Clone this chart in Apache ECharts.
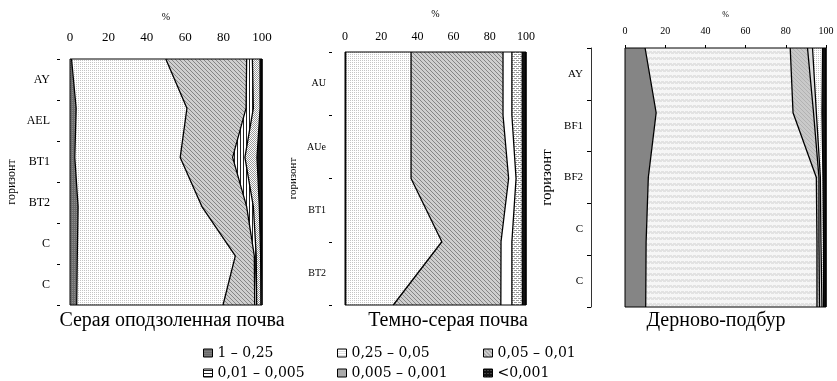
<!DOCTYPE html>
<html>
<head>
<meta charset="utf-8">
<script src="https://cdn.jsdelivr.net/npm/echarts@6/dist/echarts.min.js"></script>
<style>
  html, body { margin: 0; padding: 0; background: #fff; }
  #chart { width: 837px; height: 381px; }
</style>
</head>
<body>
<div id="chart"></div>
<script>
// гранулометрический состав по горизонтам, %
var fractions = ['1 – 0,25', '0,25 – 0,05', '0,05 – 0,01', '0,01 – 0,005', '0,005 – 0,001', '<0,001'];
var xTicks = [0, 20, 40, 60, 80, 100];

// Серая оподзоленная почва
var horizons1 = ['AY', 'AEL', 'BT1', 'BT2', 'C', 'C'];
var points1 = ['1', '2', '3', '4', '5', '6'];
var grey_f1 = [0.8, 3.2, 2.5, 4.2, 3.8, 3.5];
var grey_f2 = [49.1, 57.7, 54.9, 64.5, 82.3, 76.2];
var grey_f3 = [42.1, 30.8, 27.3, 23.3, 9.9, 16.5];
var grey_f4 = [3.0, 3.8, 6.4, 3.5, 1.0, 1.0];
var grey_f5 = [4.0, 3.5, 6.3, 3.1, 2.3, 2.2];
var grey_f6 = [1.0, 1.0, 2.6, 1.4, 0.7, 0.6];

// Темно-серая почва
var horizons2 = ['AU', 'AUe', 'BT1', 'BT2'];
var points2 = ['1', '2', '3', '4', '5'];
var dark_f1 = [0.4, 0.4, 0.4, 0.4, 0.4];
var dark_f2 = [36.1, 36.1, 36.1, 53.1, 26.3];
var dark_f3 = [50.8, 50.8, 53.9, 32.7, 59.4];
var dark_f4 = [4.9, 4.9, 4.1, 6.0, 6.1];
var dark_f5 = [5.7, 5.7, 3.5, 5.7, 5.8];
var dark_f6 = [2.1, 2.1, 2.0, 2.1, 2.0];

// Дерново-подбур
var horizons3 = ['AY', 'BF1', 'BF2', 'C', 'C'];
var points3 = ['1', '2', '3', '4', '5'];
var podbur_f1 = [10.0, 15.5, 11.6, 10.5, 10.3];
var podbur_f2 = [72.2, 68.1, 83.6, 85.0, 85.2];
var podbur_f3 = [8.6, 10.2, 1.3, 1.0, 1.3];
var podbur_f4 = [2.5, 1.4, 0.7, 1.0, 1.2];
var podbur_f5 = [5.0, 2.8, 1.3, 1.3, 0.8];
var podbur_f6 = [1.7, 2.0, 1.5, 1.2, 1.2];

(function() {
  var serif = 'Liberation Serif';

  // штриховки
  function pattern(w, h, bg, draw) {
    var c = document.createElement('canvas');
    c.width = w; c.height = h;
    var ctx = c.getContext('2d');
    ctx.fillStyle = bg;
    ctx.fillRect(0, 0, w, h);
    if (draw) draw(ctx);
    return { image: c, repeat: 'repeat' };
  }
  var darkDots = pattern(2, 2, '#6b6b6b', function(ctx) { ctx.fillStyle = '#8f8f8f'; ctx.fillRect(0, 0, 1, 1); });
  var lightDots = pattern(2, 2, '#ffffff', function(ctx) { ctx.fillStyle = '#c4c4c4'; ctx.fillRect(0, 0, 1, 1); });
  var hatch = pattern(4, 4, '#cfcfcf', function(ctx) {
    ctx.fillStyle = '#858585';
    for (var i = 0; i < 4; i++) ctx.fillRect(i, i, 1, 1);
  });
  var vLines = pattern(3, 1, '#fff', function(ctx) { ctx.fillStyle = '#222'; ctx.fillRect(0, 0, 1, 1); });
  var checker = pattern(2, 2, '#fff', function(ctx) { ctx.fillStyle = '#999'; ctx.fillRect(0, 0, 1, 1); ctx.fillRect(1, 1, 1, 1); });
  var dashes = pattern(4, 4, '#fff', function(ctx) {
    ctx.fillStyle = '#999';
    ctx.fillRect(0, 0, 3, 1); ctx.fillRect(2, 2, 2, 1); ctx.fillRect(0, 2, 1, 1);
  });
  var bands = pattern(4, 6, '#f6f6f6', function(ctx) {
    ctx.fillStyle = '#e2e2e2'; ctx.fillRect(0, 3, 4, 3);
    ctx.fillStyle = '#f6f6f6'; ctx.fillRect(0, 3, 1, 1); ctx.fillRect(2, 5, 1, 1);
  });
  var lightHatch = pattern(4, 4, '#c9c9c9', function(ctx) {
    ctx.fillStyle = '#b2b2b2';
    for (var i = 0; i < 4; i++) ctx.fillRect(i, i, 1, 1);
  });
  var hLines = pattern(1, 3, '#fff', function(ctx) { ctx.fillStyle = '#222'; ctx.fillRect(0, 1, 1, 1); });
  var vLines2 = pattern(2, 1, '#fff', function(ctx) { ctx.fillStyle = '#555'; ctx.fillRect(0, 0, 1, 1); });
  var blackDots = pattern(3, 3, '#111', function(ctx) { ctx.fillStyle = '#777'; ctx.fillRect(1, 1, 1, 1); });

  var panels = [
    {
      grid: { left: 70, top: 59, width: 192, height: 246 },
      labels: horizons1, points: points1,
      data: [grey_f1, grey_f2, grey_f3, grey_f4, grey_f5, grey_f6],
      fills: [darkDots, lightDots, hatch, vLines, checker, '#111'],
      xFont: 13, xMargin: 15, pctFont: 10, pctGap: 37, xTick: false,
      yFont: 12, yOffset: 10, yMargin: 10, yLine: false, nameFont: 12, nameGap: 42
    },
    {
      grid: { left: 345, top: 52, width: 181, height: 253 },
      labels: horizons2, points: points2,
      data: [dark_f1, dark_f2, dark_f3, dark_f4, dark_f5, dark_f6],
      fills: ['#333', lightDots, hatch, '#fff', dashes, '#111'],
      xFont: 12, xMargin: 9, pctFont: 10, pctGap: 33, xTick: false,
      yFont: 10, yOffset: 13, yMargin: 6, yLine: false, nameFont: 11, nameGap: 33
    },
    {
      grid: { left: 625, top: 48, width: 201, height: 259 },
      labels: horizons3, points: points3,
      data: [podbur_f1, podbur_f2, podbur_f3, podbur_f4, podbur_f5, podbur_f6],
      fills: ['#858585', bands, lightHatch, '#dcdcdc', lightDots, '#111'],
      xFont: 10, xMargin: 12, pctFont: 8, pctGap: 29, xTick: true,
      yFont: 11, yOffset: 34, yMargin: 8, yLine: true, nameFont: 15, nameGap: 36
    }
  ];

  var grids = [], xAxes = [], yAxes = [], series = [];
  panels.forEach(function(p, k) {
    grids.push({
      left: p.grid.left, top: p.grid.top, width: p.grid.width, height: p.grid.height,
      show: true, z: 5, borderColor: '#000', borderWidth: 1, backgroundColor: 'transparent'
    });
    xAxes.push({
      gridIndex: k, type: 'value', position: 'top', min: 0, max: 100, interval: 20,
      name: '%', nameLocation: 'middle', nameGap: p.pctGap,
      nameTextStyle: { fontFamily: serif, fontSize: p.pctFont, color: '#000' },
      axisLine: { show: false },
      axisTick: { show: p.xTick, length: 3, lineStyle: { color: '#000' } },
      axisLabel: {
        fontFamily: serif, fontSize: p.xFont, color: '#000', margin: p.xMargin,
        formatter: function(v) { return xTicks.indexOf(v) >= 0 ? String(v) : ''; }
      },
      splitLine: { show: false }
    });
    // ось точек (данные)
    yAxes.push({
      gridIndex: k, type: 'category', data: p.points, boundaryGap: false, inverse: true, show: false
    });
    // ось горизонтов (подписи)
    yAxes.push({
      gridIndex: k, type: 'category', data: p.labels, boundaryGap: true, inverse: true,
      position: 'left', offset: p.yOffset,
      name: 'горизонт', nameLocation: 'middle', nameRotate: 90, nameGap: p.nameGap,
      nameTextStyle: { fontFamily: serif, fontSize: p.nameFont, color: '#000' },
      axisLine: { show: p.yLine, lineStyle: { color: '#333', width: 1 } },
      axisTick: { show: true, length: p.yLine ? 4 : 3, lineStyle: { color: '#000' } },
      axisLabel: { fontFamily: serif, fontSize: p.yFont, color: '#000', margin: p.yMargin, interval: 0 },
      splitLine: { show: false }
    });
    p.data.forEach(function(vals, i) {
      series.push({
        type: 'line', name: fractions[i], xAxisIndex: k, yAxisIndex: k * 2,
        stack: 'area' + k, data: vals, symbol: 'none', silent: true, z: 2,
        lineStyle: { width: 0 },
        itemStyle: { color: p.fills[i] },
        areaStyle: { color: p.fills[i], opacity: 1 }
      });
    });
    // контуры границ фракций
    p.data.forEach(function(vals, i) {
      series.push({
        type: 'line', name: 'line' + k + '_' + i, xAxisIndex: k, yAxisIndex: k * 2,
        stack: 'edge' + k, data: vals, symbol: 'none', silent: true, z: 3,
        lineStyle: { color: '#000', width: 1.3 }
      });
    });
  });

  var legendFills = [darkDots, lightDots, hatch, hLines, vLines2, blackDots];
  var cols = [203, 337, 483];
  var rows = [346, 366];
  var legends = fractions.map(function(f, i) {
    return {
      data: [{ name: f, itemStyle: { color: legendFills[i], borderColor: '#000', borderWidth: 1 } }],
      left: cols[i % 3], top: rows[Math.floor(i / 3)],
      icon: 'rect', itemWidth: 9, itemHeight: 8, itemGap: 5, padding: 0,
      selectedMode: false,
      textStyle: { fontFamily: 'DejaVu Serif', fontSize: 14, color: '#000' }
    };
  });

  var titleStyle = { fontFamily: serif, fontSize: 20, fontWeight: 'normal', color: '#000' };
  var chart = echarts.init(document.getElementById('chart'), null, { renderer: 'canvas' });
  chart.setOption({
    animation: false,
    backgroundColor: '#fff',
    title: [
      { text: 'Серая оподзоленная почва', left: 172, top: 311, textAlign: 'center', padding: 0, textStyle: titleStyle },
      { text: 'Темно-серая почва', left: 448, top: 311, textAlign: 'center', padding: 0, textStyle: titleStyle },
      { text: 'Дерново-подбур', left: 716, top: 311, textAlign: 'center', padding: 0, textStyle: titleStyle }
    ],
    legend: legends,
    grid: grids,
    xAxis: xAxes,
    yAxis: yAxes,
    series: series
  });
  window.addEventListener('resize', function() { chart.resize(); });
})();
</script>
</body>
</html>
